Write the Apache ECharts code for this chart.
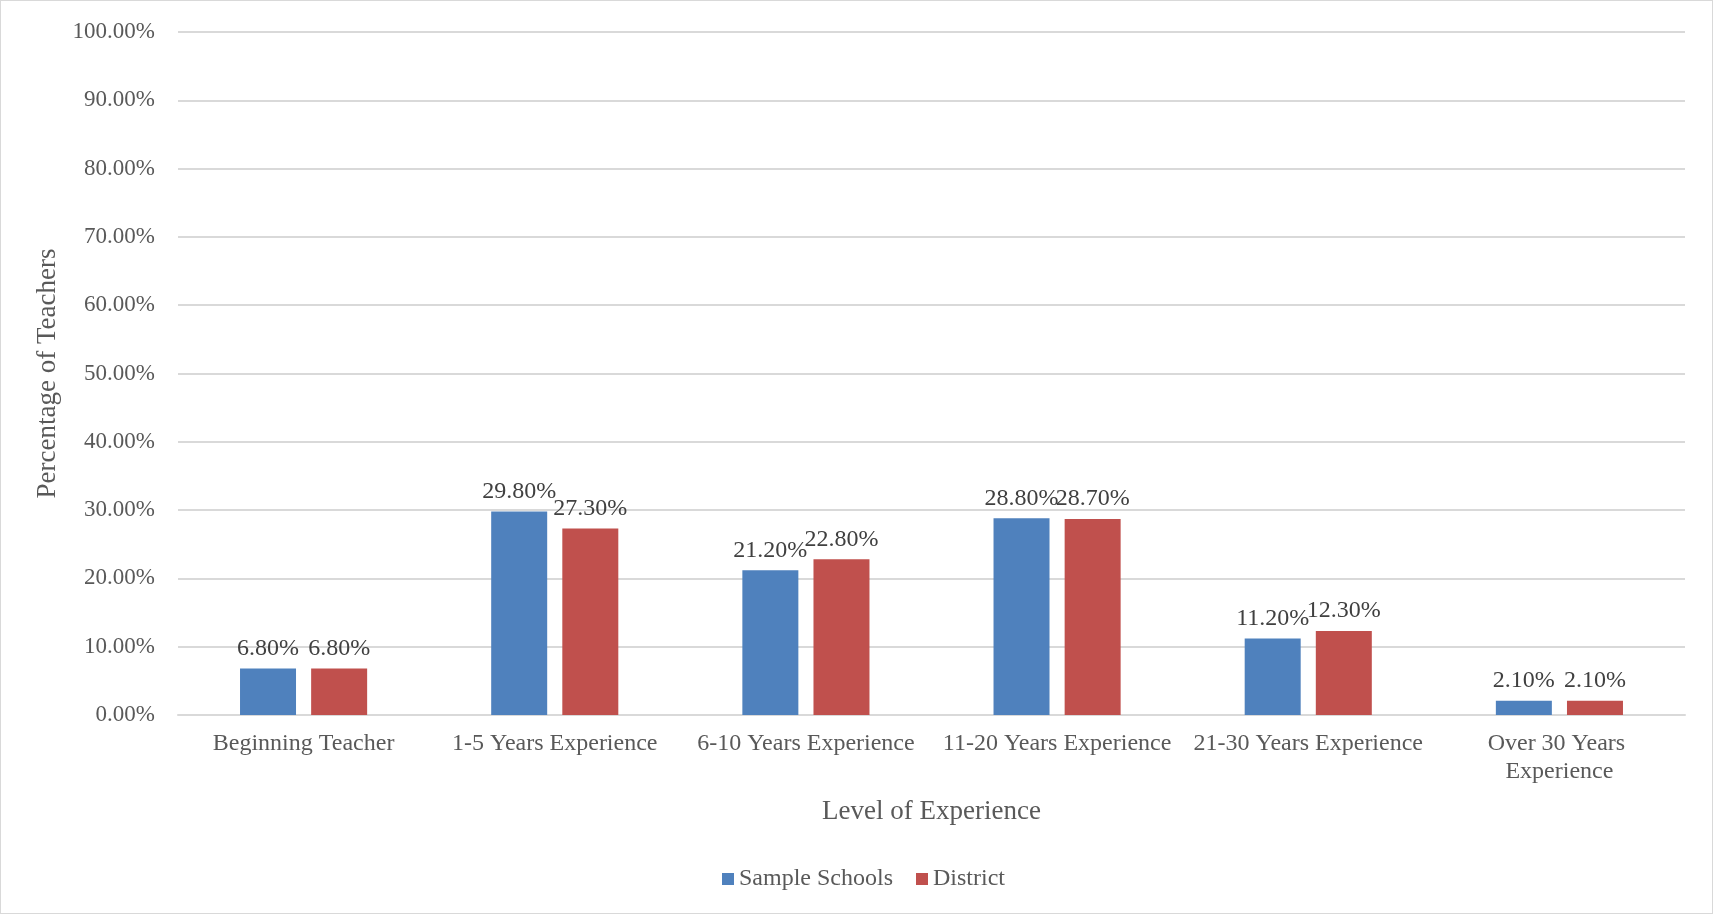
<!DOCTYPE html>
<html>
<head>
<meta charset="utf-8">
<title>Teacher Experience</title>
<script src="https://cdn.jsdelivr.net/npm/echarts@6/dist/echarts.min.js"></script>
<style>
  html, body { margin: 0; padding: 0; background: #fff; }
  #chart { width: 1713px; height: 914px; box-sizing: border-box; border: 1px solid #d9d9d9; }
</style>
</head>
<body>
<div id="chart"></div>
<script>
// Share of teachers by years of experience
const categories = [
  'Beginning Teacher',
  '1-5 Years Experience',
  '6-10 Years Experience',
  '11-20 Years Experience',
  '21-30 Years Experience',
  'Over 30 Years Experience'
];
const sampleSchools = [6.8, 29.8, 21.2, 28.8, 11.2, 2.1];
const district = [6.8, 27.3, 22.8, 28.7, 12.3, 2.1];
const seriesNames = ['Sample Schools', 'District'];

const FONT = '"Liberation Serif", "Times New Roman", serif';
const AXIS_TEXT = '#595959';
const LABEL_TEXT = '#404040';
const GRID_LINE = '#d9d9d9';

const pct = v => v.toFixed(2) + '%';

const chart = echarts.init(document.getElementById('chart'), null, { renderer: 'canvas' });

const barLabel = {
  show: true,
  position: 'top',
  distance: 8,
  color: LABEL_TEXT,
  fontFamily: FONT,
  fontSize: 24,
  formatter: p => pct(p.value)
};

chart.setOption({
  animation: false,
  backgroundColor: '#fff',
  textStyle: { fontFamily: FONT },
  grid: { left: 177, right: 27, top: 31, bottom: 198, containLabel: false },
  legend: {
    data: seriesNames,
    left: 716,
    top: 861,
    icon: 'rect',
    itemWidth: 12,
    itemHeight: 12,
    itemGap: 23,
    textStyle: { color: AXIS_TEXT, fontFamily: FONT, fontSize: 24, padding: [0, 0, 0, 0] }
  },
  xAxis: {
    type: 'category',
    data: categories,
    name: 'Level of Experience',
    nameLocation: 'middle',
    nameGap: 83,
    nameTextStyle: { color: AXIS_TEXT, fontFamily: FONT, fontSize: 27 },
    axisLine: { show: true, lineStyle: { color: GRID_LINE, width: 2 } },
    axisTick: { show: false },
    axisLabel: {
      color: AXIS_TEXT,
      fontFamily: FONT,
      fontSize: 24,
      lineHeight: 28,
      margin: 15,
      interval: 0,
      width: 240,
      overflow: 'break'
    }
  },
  yAxis: {
    type: 'value',
    min: 0,
    max: 100,
    interval: 10,
    name: 'Percentage of Teachers',
    nameLocation: 'middle',
    nameGap: 108,
    nameTextStyle: { color: AXIS_TEXT, fontFamily: FONT, fontSize: 27 },
    axisLine: { show: false },
    axisTick: { show: false },
    axisLabel: {
      color: AXIS_TEXT,
      fontFamily: FONT,
      fontSize: 23,
      margin: 23,
      formatter: v => pct(v)
    },
    splitLine: { lineStyle: { color: GRID_LINE, width: 2 } }
  },
  series: [
    {
      name: seriesNames[0],
      type: 'bar',
      data: sampleSchools,
      barWidth: 56,
      barGap: '27%',
      itemStyle: { color: '#4f81bd' },
      label: barLabel
    },
    {
      name: seriesNames[1],
      type: 'bar',
      data: district,
      barWidth: 56,
      barGap: '27%',
      itemStyle: { color: '#c0504d' },
      label: barLabel
    }
  ]
});
</script>
</body>
</html>
